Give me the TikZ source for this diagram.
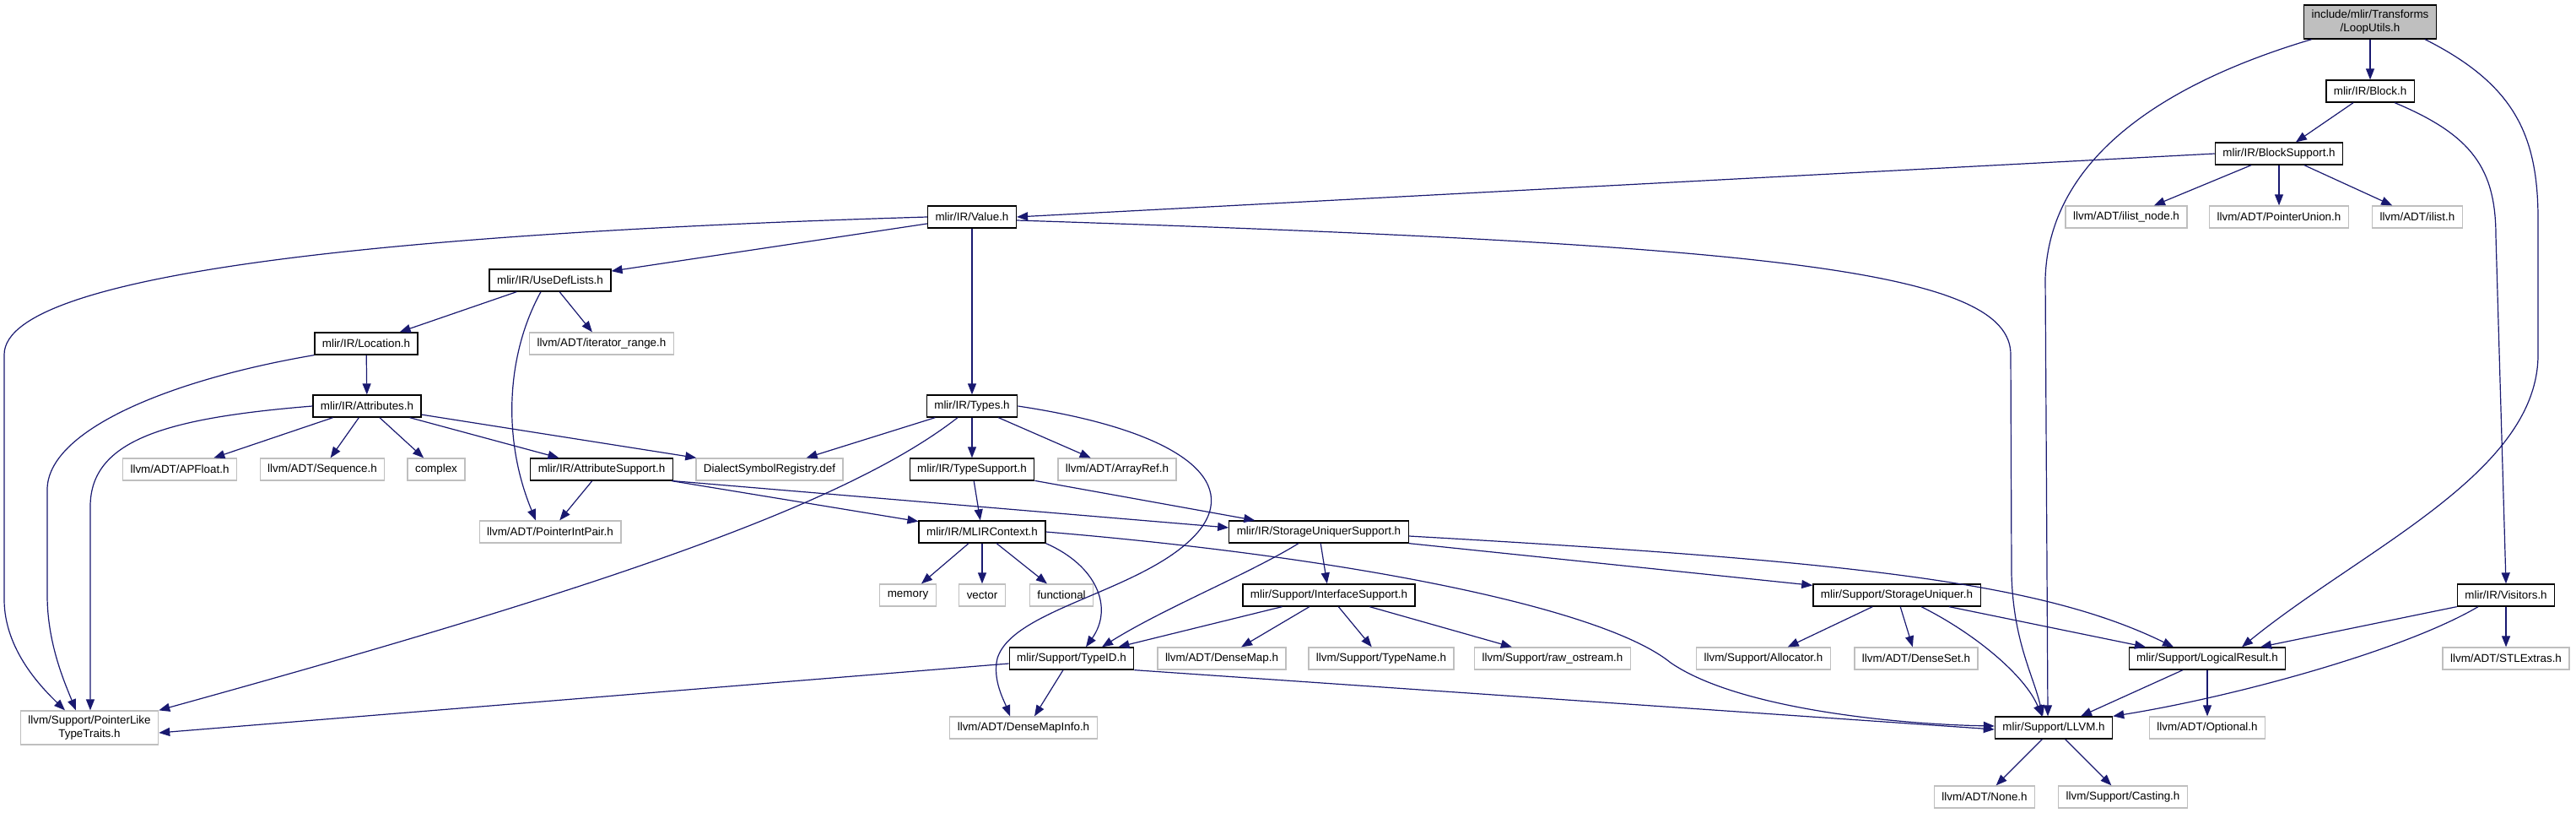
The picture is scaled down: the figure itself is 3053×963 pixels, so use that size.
\documentclass[tikz,border=0pt]{standalone}
\usepackage{fontspec}
\setmainfont{Liberation Sans}
\usepackage{tikz}
\usetikzlibrary{arrows.meta}
\definecolor{edgeblue}{HTML}{191970}
\definecolor{extgray}{HTML}{BFBFBF}

\begin{document}
\begin{tikzpicture}[x=1pt, y=-1pt,
    incl/.style={draw=black, line width=1.3pt, fill=white, text=black, minimum height=26pt,
                 inner xsep=9pt, inner ysep=2pt, align=center, font=\fontsize{13.4}{15.5}\selectfont},
    sysinc/.style={incl, draw=extgray},
    topfile/.style={incl, fill=extgray, minimum height=40pt},
    dep/.style={draw=edgeblue, line width=1.2pt, -{Triangle[length=13pt, width=10pt]}}]
    \useasboundingbox (0,0) rectangle (3053,963);

    % Headers
    \node[topfile] (loop) at (2809,26) {include/mlir/Transforms\\/LoopUtils.h};
    \node[incl] (block) at (2809,108) {mlir/IR/Block.h};
    \node[incl] (blocksup) at (2701,182) {mlir/IR/BlockSupport.h};
    \node[sysinc] (ilistnode) at (2520,257) {llvm/ADT/ilist\_node.h};
    \node[sysinc] (ptrunion) at (2701,257) {llvm/ADT/PointerUnion.h};
    \node[sysinc] (ilist) at (2865,257) {llvm/ADT/ilist.h};
    \node[incl] (value) at (1152,257) {mlir/IR/Value.h};
    \node[incl] (usedef) at (652,332) {mlir/IR/UseDefLists.h};
    \node[incl] (location) at (434,407) {mlir/IR/Location.h};
    \node[sysinc] (iterrange) at (713,407) {llvm/ADT/iterator\_range.h};
    \node[incl] (attrs) at (435,481) {mlir/IR/Attributes.h};
    \node[incl] (types) at (1152,481) {mlir/IR/Types.h};
    \node[sysinc] (apfloat) at (213,556) {llvm/ADT/APFloat.h};
    \node[sysinc] (sequence) at (382,556) {llvm/ADT/Sequence.h};
    \node[sysinc] (complex) at (517,556) {complex};
    \node[incl] (attrsup) at (713,556) {mlir/IR/AttributeSupport.h};
    \node[sysinc] (dialreg) at (912,556) {DialectSymbolRegistry.def};
    \node[incl] (typesup) at (1152,556) {mlir/IR/TypeSupport.h};
    \node[sysinc] (arrayref) at (1324,556) {llvm/ADT/ArrayRef.h};
    \node[sysinc] (ptrintpair) at (652,630) {llvm/ADT/PointerIntPair.h};
    \node[incl] (mlirctx) at (1164,630) {mlir/IR/MLIRContext.h};
    \node[incl] (sus) at (1563,630) {mlir/IR/StorageUniquerSupport.h};
    \node[sysinc] (memory) at (1076,705) {memory};
    \node[sysinc] (vector) at (1164,705) {vector};
    \node[sysinc] (functional) at (1258,705) {functional};
    \node[incl] (ifacesup) at (1575,705) {mlir/Support/InterfaceSupport.h};
    \node[incl] (storuniq) at (2248,705) {mlir/Support/StorageUniquer.h};
    \node[incl] (visitors) at (2970,705) {mlir/IR/Visitors.h};
    \node[incl] (typeid) at (1270,780) {mlir/Support/TypeID.h};
    \node[sysinc] (densemap) at (1448,780) {llvm/ADT/DenseMap.h};
    \node[sysinc] (typename) at (1637,780) {llvm/Support/TypeName.h};
    \node[sysinc] (rawos) at (1840,780) {llvm/Support/raw\_ostream.h};
    \node[sysinc] (allocator) at (2090,780) {llvm/Support/Allocator.h};
    \node[sysinc] (denseset) at (2271,780) {llvm/ADT/DenseSet.h};
    \node[incl] (logres) at (2616,780) {mlir/Support/LogicalResult.h};
    \node[sysinc] (stlextras) at (2970,780) {llvm/ADT/STLExtras.h};
    \node[sysinc, minimum height=40pt] (ptrlike) at (106,862) {llvm/Support/PointerLike\\TypeTraits.h};
    \node[sysinc] (densemapinfo) at (1213,862) {llvm/ADT/DenseMapInfo.h};
    \node[incl] (llvmh) at (2434,862) {mlir/Support/LLVM.h};
    \node[sysinc] (optional) at (2616,862) {llvm/ADT/Optional.h};
    \node[sysinc] (none) at (2352,944) {llvm/ADT/None.h};
    \node[sysinc] (casting) at (2516,944) {llvm/Support/Casting.h};

    % Includes
    \draw[dep] (loop) -- (block);
    \draw[dep] (loop) .. controls (2560,100) and (2428,190) .. (2424,330) -- ([xshift=-7pt]llvmh.north);
    \draw[dep] ([xshift=-14pt]loop.south east) .. controls (2980,100) and (3008,160) .. (3008,260) -- (3008,420) .. controls (3008,560) and (2800,650) .. ([xshift=41pt]logres.north);

    \draw[dep] (block) -- (blocksup);
    \draw[dep] ([xshift=29pt]block.south) .. controls (2930,160) and (2958,200) .. (2958,280) -- (visitors.north);

    \draw[dep] (blocksup.west) -- (value.east);
    \draw[dep] (blocksup) -- (ilistnode);
    \draw[dep] (blocksup) -- (ptrunion);
    \draw[dep] (blocksup) -- (ilist);

    \draw[dep] (value) -- (usedef);
    \draw[dep] (value) -- (types);
    \draw[dep] ([yshift=-4pt]value.east) .. controls (2100,290) and (2383,320) .. (2383,420) -- (2384,680) .. controls (2386,760) and (2410,800) .. ([xshift=-13pt]llvmh.north);
    \draw[dep] (value.west) .. controls (500,275) and (5,320) .. (5,420) -- (5,710) .. controls (5,770) and (50,815) .. ([xshift=-29pt]ptrlike.north);

    \draw[dep] (usedef) -- (location);
    \draw[dep] (usedef) -- (iterrange);
    \draw[dep] ([xshift=-11pt]usedef.south) .. controls (600,420) and (595,520) .. ([xshift=-17pt]ptrintpair.north);

    \draw[dep] (location) -- (attrs);
    \draw[dep] (location.south west) .. controls (200,450) and (56,510) .. (56,580) -- (56,705) .. controls (56,760) and (75,805) .. ([xshift=-16pt]ptrlike.north);

    \draw[dep] (attrs.west) .. controls (200,495) and (107,520) .. (107,600) -- ([xshift=1pt]ptrlike.north);
    \draw[dep] (attrs) -- (apfloat);
    \draw[dep] (attrs) -- (sequence);
    \draw[dep] (attrs) -- (complex);
    \draw[dep] (attrs) -- (attrsup);
    \draw[dep] (attrs) -- (dialreg);

    \draw[dep] (types) -- (dialreg);
    \draw[dep] (types) -- (typesup);
    \draw[dep] (types) -- (arrayref);
    \draw[dep] ([xshift=-17pt]types.south) .. controls (1000,600) and (700,700) .. (ptrlike.north east);
    \draw[dep] (types.east) .. controls (1400,510) and (1470,570) .. (1420,630) .. controls (1360,700) and (1200,720) .. (1182,780) .. controls (1176,805) and (1190,830) .. ([xshift=-16pt]densemapinfo.north);

    \draw[dep] (typesup) -- (mlirctx);
    \draw[dep] (typesup) -- (sus);

    \draw[dep] (attrsup) -- (ptrintpair);
    \draw[dep] (attrsup) -- (mlirctx);
    \draw[dep] (attrsup.south east) -- ([yshift=5pt]sus.west);

    \draw[dep] (mlirctx) -- (memory);
    \draw[dep] (mlirctx) -- (vector);
    \draw[dep] (mlirctx) -- (functional);
    \draw[dep] (mlirctx.south east) .. controls (1300,670) and (1320,720) .. ([xshift=17pt]typeid.north);
    \draw[dep] (mlirctx.east) .. controls (1600,660) and (1900,720) .. (1980,785) .. controls (2060,840) and (2250,858) .. ([yshift=2pt]llvmh.west);

    \draw[dep] (sus) -- (ifacesup);
    \draw[dep] ([xshift=-24pt]sus.south) .. controls (1480,680) and (1380,720) .. ([xshift=36pt]typeid.north);
    \draw[dep] (sus.south east) -- ([yshift=-2pt]storuniq.north west);
    \draw[dep] ([yshift=-5pt]sus.east) .. controls (2200,665) and (2420,690) .. ([xshift=-40pt]logres.north);

    \draw[dep] (ifacesup) -- (typeid);
    \draw[dep] (ifacesup) -- (densemap);
    \draw[dep] (ifacesup) -- (typename);
    \draw[dep] (ifacesup) -- (rawos);

    \draw[dep] (storuniq) -- (allocator);
    \draw[dep] (storuniq) -- (denseset);
    \draw[dep] ([xshift=29pt]storuniq.south) .. controls (2340,750) and (2400,800) .. ([xshift=-14pt]llvmh.north);
    \draw[dep] ([xshift=62pt]storuniq.south) -- ([xshift=-73pt]logres.north);

    \draw[dep] (visitors.south west) -- ([xshift=63pt]logres.north);
    \draw[dep] ([xshift=-33pt]visitors.south) .. controls (2850,770) and (2650,825) .. (llvmh.north east);
    \draw[dep] (visitors) -- (stlextras);

    \draw[dep] ([yshift=-6pt]typeid.west) -- ([yshift=-6pt]ptrlike.east);
    \draw[dep] ([xshift=-10pt]typeid.south) -- ([xshift=13pt]densemapinfo.north);
    \draw[dep] (typeid.south east) -- ([yshift=-2pt]llvmh.west);

    \draw[dep] ([xshift=-29pt]logres.south) -- ([xshift=32pt]llvmh.north);
    \draw[dep] (logres) -- (optional);

    \draw[dep] (llvmh) -- (none);
    \draw[dep] (llvmh) -- (casting);
\end{tikzpicture}
\end{document}
